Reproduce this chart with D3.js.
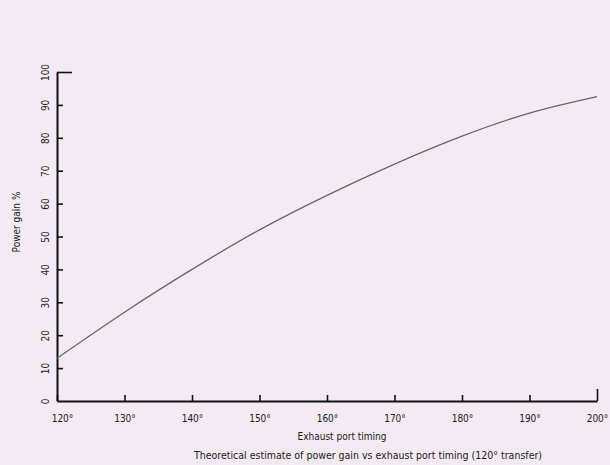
<!DOCTYPE html>
<html>
<head>
<meta charset="utf-8">
<script src="https://cdn.jsdelivr.net/npm/d3@7"></script>
<style>
  body { margin: 0; background: #f4eaf4; }
  svg { display: block; }
  text { font-family: "DejaVu Sans Condensed", "DejaVu Sans", sans-serif; fill: #1a1a1a; }
</style>
</head>
<body>
<svg width="610" height="465"></svg>
<script>
// exhaust port timing (degrees) vs power gain (%)
var timing = [120, 130, 140, 150, 160, 170, 180, 190, 200];
var gain = [13, 27, 40, 52, 62.5, 72, 80.5, 87.5, 92.5];
var xTicks = [120, 130, 140, 150, 160, 170, 180, 190, 200];
var yTicks = [0, 10, 20, 30, 40, 50, 60, 70, 80, 90, 100];

var svg = d3.select("svg"),
  width = +svg.attr("width"),
  height = +svg.attr("height");

var margin = {top: 72, right: 13, bottom: 64, left: 57};

var x = d3.scaleLinear()
  .domain([120, 200])
  .range([margin.left, width - margin.right]);

var y = d3.scaleLinear()
  .domain([0, 100])
  .range([height - margin.bottom, margin.top]);

// x axis, ticks pointing up
var xAxis = d3.axisBottom(x)
  .tickValues(xTicks)
  .tickSizeInner(-6)
  .tickSizeOuter(0)
  .tickPadding(14)
  .tickFormat(d => d + "°");

var gx = svg.append("g")
  .attr("transform", "translate(0," + y(0) + ")")
  .call(xAxis);
gx.select(".domain").attr("stroke", "#111").attr("stroke-width", 2);
gx.selectAll(".tick line").attr("stroke", "#111").attr("stroke-width", 1.6);
gx.selectAll(".tick line").filter(d => d == 200).attr("y2", -12);
gx.selectAll(".tick text")
  .attr("dx", d => d == 120 ? 5 : 0)
  .style("font-size", "10px")
  .attr("fill", "#1a1a1a");

// y axis, ticks pointing right, labels rotated
var yAxis = d3.axisLeft(y)
  .tickValues(yTicks)
  .tickSizeInner(-6)
  .tickSizeOuter(0)
  .tickFormat(d => d);

var gy = svg.append("g")
  .attr("transform", "translate(" + x(120) + ",0)")
  .call(yAxis);
gy.select(".domain").attr("stroke", "#111").attr("stroke-width", 2);
gy.selectAll(".tick line").attr("stroke", "#111").attr("stroke-width", 1.6);
gy.selectAll(".tick line").filter(d => d == 100).attr("x2", 15);
gy.selectAll(".tick line").filter(d => d == 0).remove();
gy.selectAll(".tick text")
  .attr("x", null)
  .attr("dy", null)
  .attr("text-anchor", "middle")
  .attr("transform", "translate(-8,0) rotate(-90)")
  .style("font-size", "10px")
  .attr("fill", "#1a1a1a");

// curve
var line = d3.line()
  .x((d, i) => x(timing[i]))
  .y(d => y(d))
  .curve(d3.curveNatural);

svg.append("path")
  .datum(gain)
  .attr("d", line)
  .attr("fill", "none")
  .attr("stroke", "#666")
  .attr("stroke-width", 1.3);

// titles
svg.append("text")
  .attr("transform", "translate(20," + 222 + ") rotate(-90)")
  .attr("text-anchor", "middle")
  .style("font-size", "10px")
  .text("Power gain %");

svg.append("text")
  .attr("x", 342)
  .attr("y", 440)
  .attr("text-anchor", "middle")
  .style("font-size", "10px")
  .text("Exhaust port timing");

svg.append("text")
  .attr("x", 368)
  .attr("y", 459)
  .attr("text-anchor", "middle")
  .style("font-size", "10.5px")
  .text("Theoretical estimate of power gain vs exhaust port timing (120° transfer)");
</script>
</body>
</html>
